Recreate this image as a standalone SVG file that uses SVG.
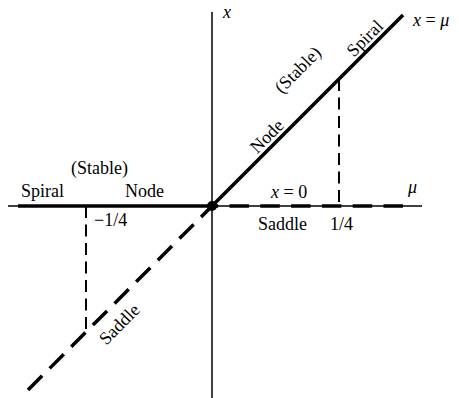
<svg xmlns="http://www.w3.org/2000/svg" width="459" height="398" viewBox="0 0 459 398">
<style>
.axis{stroke:#000;stroke-width:1.5;fill:none}
.thick{stroke:#000;stroke-width:3.5;fill:none}
.thickdash{stroke:#000;stroke-width:3.5;fill:none;stroke-dasharray:20 10.6}
.hdash{stroke:#000;stroke-width:3.5;fill:none;stroke-dasharray:19.5 11.3}
.vdash{stroke:#000;stroke-width:2;fill:none;stroke-dasharray:12 6.5}
text{font-family:"Liberation Serif","Times New Roman",serif;font-size:18px;fill:#000}
.it{font-style:italic}
</style>
<rect width="459" height="398" fill="#fff"/>
<g id="axes">
<line class="axis" x1="212" y1="12" x2="212" y2="398"/>
<line class="axis" x1="8" y1="206" x2="422" y2="206"/>
</g>
<g id="connectors">
<line class="thick" x1="18" y1="206" x2="212" y2="206"/>
<line class="thick" x1="212" y1="206" x2="403" y2="15"/>
<line class="thickdash" x1="28" y1="390" x2="212" y2="206"/>
<line class="hdash" x1="403" y1="206" x2="212" y2="206"/>
<line class="vdash" x1="339" y1="79" x2="339" y2="206"/>
<line class="vdash" x1="86" y1="206" x2="86" y2="332"/>
</g>
<g id="origin">
<circle cx="212" cy="206" r="5" fill="#000"/>
</g>
<g id="labels">
<text class="it" x="223" y="18">x</text>
<text x="413" y="26"><tspan class="it">x</tspan> = <tspan class="it">μ</tspan></text>
<text x="408" y="193" class="it">μ</text>
<text x="271" y="198"><tspan class="it">x</tspan> = 0</text>
<text x="71" y="174">(Stable)</text>
<text x="21" y="197">Spiral</text>
<text x="125" y="197">Node</text>
<text x="94" y="226">−1/4</text>
<text x="258" y="230">Saddle</text>
<text x="330" y="230">1/4</text>
<text transform="translate(271,140.5) rotate(-45)" text-anchor="middle">Node</text>
<text transform="translate(302,74) rotate(-45)" text-anchor="middle">(Stable)</text>
<text transform="translate(369,42.5) rotate(-45)" text-anchor="middle">Spiral</text>
<text transform="translate(123.5,328.5) rotate(-45)" text-anchor="middle">Saddle</text>
</g>
</svg>
